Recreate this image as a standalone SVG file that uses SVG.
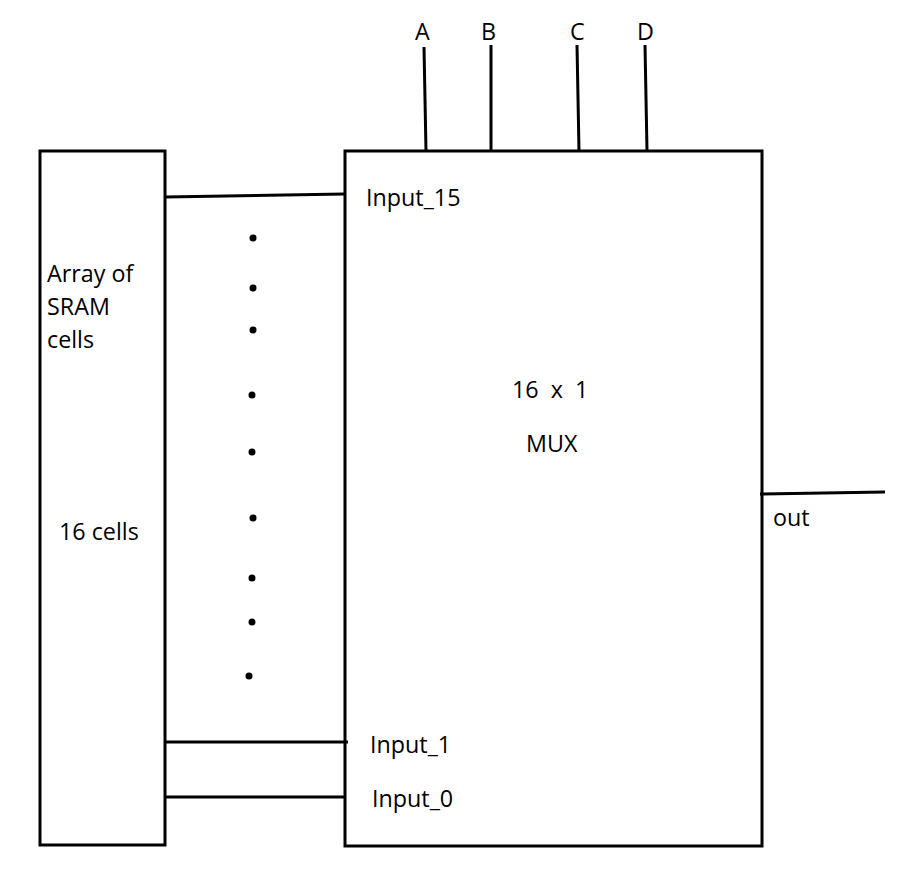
<svg xmlns="http://www.w3.org/2000/svg" width="902" height="872" viewBox="0 0 902 872">
<style>
.box{fill:#fff;stroke:#000;stroke-width:3}
.w{stroke:#000;stroke-width:3;fill:none}
text{font-family:"Open Sans","Liberation Sans",sans-serif;font-size:23.3px;fill:#000}
</style>
<rect width="902" height="872" fill="#fff"/>
<g id="sram">
<rect class="box" x="40" y="151" width="125" height="694"/>
<text x="47" y="282">Array of</text>
<text x="47" y="315">SRAM</text>
<text x="47" y="348">cells</text>
<text x="59" y="540">16 cells</text>
</g>
<g id="mux">
<rect class="box" x="345" y="151" width="417" height="695"/>
<text x="512" y="398" xml:space="preserve">16  x  1</text>
<text x="526" y="452">MUX</text>
<text x="366" y="206">Input_15</text>
<text x="370" y="753">Input_1</text>
<text x="372" y="807">Input_0</text>
<text x="773" y="526">out</text>
</g>
<g id="selects">
<text x="415" y="40">A</text>
<text x="481" y="40">B</text>
<text x="570" y="40">C</text>
<text x="637" y="40">D</text>
</g>
<g id="connectors">
<line class="w" x1="424" y1="47" x2="426" y2="151"/>
<line class="w" x1="491" y1="45" x2="491" y2="151"/>
<line class="w" x1="577" y1="45" x2="579" y2="151"/>
<line class="w" x1="645" y1="45" x2="647" y2="151"/>
<line class="w" x1="165" y1="197" x2="345" y2="194"/>
<line class="w" x1="165" y1="742" x2="348" y2="742"/>
<line class="w" x1="165" y1="797" x2="345" y2="797"/>
<line class="w" x1="760" y1="494" x2="885" y2="492"/>
</g>
<g id="dots" fill="#000">
<circle cx="253" cy="238" r="3.5"/>
<circle cx="253" cy="288" r="3.5"/>
<circle cx="253" cy="330" r="3.5"/>
<circle cx="252" cy="395" r="3.5"/>
<circle cx="252" cy="452" r="3.5"/>
<circle cx="253" cy="518" r="3.5"/>
<circle cx="252" cy="578" r="3.5"/>
<circle cx="252" cy="622" r="3.5"/>
<circle cx="249" cy="676" r="3.5"/>
</g>
</svg>
